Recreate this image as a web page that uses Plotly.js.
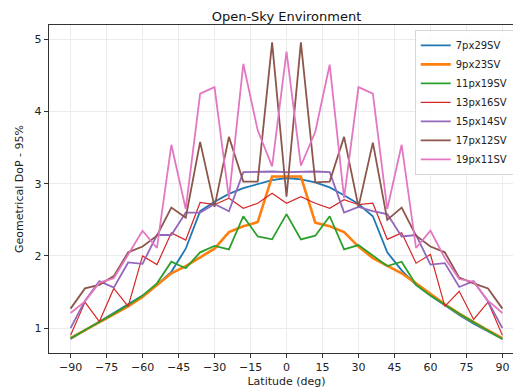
<!DOCTYPE html>
<html>
<head>
<meta charset="utf-8">
<script src="https://cdn.plot.ly/plotly-3.0.1.min.js"></script>
<style>
  html, body { margin: 0; padding: 0; overflow: hidden; background: #fff; }
  #chart { width: 530px; height: 388px; }
</style>
</head>
<body>
<div id="chart"></div>
<script>
// Latitude grid, every 6 degrees
const latitude = [-90, -84, -78, -72, -66, -60, -54, -48, -42, -36, -30, -24, -18, -12, -6, 0,
                  6, 12, 18, 24, 30, 36, 42, 48, 54, 60, 66, 72, 78, 84, 90];

// 95% geometrical DoP per constellation configuration
const gdop_7px29SV  = [0.85, 0.97, 1.08, 1.2, 1.32, 1.45, 1.6, 1.78, 2.1, 2.62, 2.75, 2.86, 2.94, 3.0, 3.05, 3.08,
                       3.06, 3.02, 2.95, 2.84, 2.72, 2.55, 2.05, 1.8, 1.6, 1.45, 1.31, 1.18, 1.06, 0.95, 0.85];
const gdop_9px23SV  = [0.86, 0.97, 1.07, 1.18, 1.3, 1.43, 1.6, 1.76, 1.86, 1.98, 2.1, 2.33, 2.41, 2.47, 3.1, 3.1,
                       3.1, 2.46, 2.41, 2.33, 2.13, 1.97, 1.86, 1.76, 1.62, 1.47, 1.33, 1.2, 1.08, 0.97, 0.86];
const gdop_11px19SV = [0.86, 0.97, 1.08, 1.2, 1.32, 1.45, 1.62, 1.92, 1.83, 2.05, 2.14, 2.09, 2.55, 2.27, 2.23, 2.58,
                       2.23, 2.28, 2.55, 2.09, 2.15, 2.0, 1.86, 1.92, 1.6, 1.45, 1.32, 1.2, 1.08, 0.96, 0.85];
const gdop_13px16SV = [0.9, 1.36, 1.09, 1.55, 1.3, 2.0, 1.88, 2.32, 2.22, 2.74, 2.71, 2.8, 2.66, 2.73, 2.87, 2.73,
                       2.82, 2.73, 2.66, 2.78, 2.71, 2.73, 2.23, 2.32, 1.9, 2.02, 1.3, 1.51, 1.12, 1.36, 0.9];
const gdop_15px14SV = [1.0, 1.38, 1.65, 1.56, 1.91, 1.89, 2.29, 2.29, 2.6, 2.6, 2.72, 2.62, 3.16, 3.17, 3.17, 3.16,
                       3.17, 3.17, 3.16, 2.6, 2.68, 2.62, 2.58, 2.27, 2.29, 1.88, 1.9, 1.57, 1.65, 1.37, 1.0];
const gdop_17px12SV = [1.27, 1.55, 1.6, 1.72, 2.05, 2.13, 2.28, 2.67, 2.53, 3.58, 2.68, 3.65, 3.03, 3.03, 4.96, 2.82,
                       4.96, 3.02, 3.03, 3.65, 2.68, 3.57, 2.5, 2.67, 2.28, 2.13, 2.05, 1.7, 1.62, 1.55, 1.27];
const gdop_19px11SV = [1.21, 1.37, 1.63, 1.69, 2.02, 2.35, 2.11, 3.54, 2.65, 4.25, 4.34, 2.8, 4.66, 3.74, 3.24, 4.83,
                       3.25, 3.72, 4.65, 2.8, 4.34, 4.25, 2.65, 3.54, 2.11, 2.35, 1.97, 1.68, 1.64, 1.38, 1.21];

const seriesNames = ['7px29SV', '9px23SV', '11px19SV', '13px16SV', '15px14SV', '17px12SV', '19px11SV'];
const seriesData = [gdop_7px29SV, gdop_9px23SV, gdop_11px19SV, gdop_13px16SV, gdop_15px14SV, gdop_17px12SV, gdop_19px11SV];
const seriesColors = ['#1f77b4', '#ff7f0e', '#2ca02c', '#d62728', '#9467bd', '#8c564b', '#e377c2'];
const seriesWidths = [1.8, 2.6, 1.8, 1.2, 1.8, 1.8, 1.8];

const xTicks = [-90, -75, -60, -45, -30, -15, 0, 15, 30, 45, 60, 75, 90];
const yTicks = [1, 2, 3, 4, 5];

const traces = seriesNames.map((name, i) => ({
  type: 'scatter',
  mode: 'lines',
  name: name,
  x: latitude,
  y: seriesData[i],
  line: { color: seriesColors[i], width: seriesWidths[i] }
}));

const font = 'DejaVu Sans, sans-serif';

const layout = {
  width: 530,
  height: 388,
  margin: { l: 49, r: 6, t: 25, b: 35, pad: 0 },
  paper_bgcolor: '#ffffff',
  plot_bgcolor: '#ffffff',
  font: { family: font, size: 11, color: '#222' },
  title: {
    text: 'Open-Sky Environment',
    font: { family: font, size: 13, color: '#111' },
    x: 0.5, xanchor: 'center', xref: 'paper',
    y: 1, yref: 'paper', yanchor: 'bottom', pad: { b: 4 }
  },
  xaxis: {
    range: [-99, 99],
    tickvals: xTicks,
    ticks: 'outside', ticklen: 4, tickwidth: 1, tickcolor: '#333',
    showgrid: true, gridcolor: '#ebebeb', gridwidth: 1,
    showline: true, linecolor: '#333', linewidth: 1.2, mirror: true,
    zeroline: false,
    tickfont: { family: font, size: 11, color: '#222' },
    title: { text: 'Latitude (deg)', font: { family: font, size: 11, color: '#222' }, standoff: 4 }
  },
  yaxis: {
    range: [0.655, 5.2],
    tickvals: yTicks,
    ticks: 'outside', ticklen: 4, tickwidth: 1, tickcolor: '#333',
    showgrid: true, gridcolor: '#ebebeb', gridwidth: 1,
    showline: true, linecolor: '#333', linewidth: 1.2, mirror: true,
    zeroline: false,
    tickfont: { family: font, size: 11, color: '#222' },
    title: { text: 'Geometrical DoP - 95%', font: { family: font, size: 11, color: '#222' }, standoff: 8 }
  },
  legend: {
    x: 0.77, y: 0.985, xanchor: 'left', yanchor: 'top',
    bgcolor: 'rgba(255,255,255,0.85)',
    bordercolor: '#d6d6d6', borderwidth: 1,
    font: { family: font, size: 10, color: '#222' },
    tracegroupgap: 0,
    itemwidth: 30
  },
  showlegend: true
};

Plotly.newPlot('chart', traces, layout, { staticPlot: true, displayModeBar: false });
</script>
</body>
</html>
